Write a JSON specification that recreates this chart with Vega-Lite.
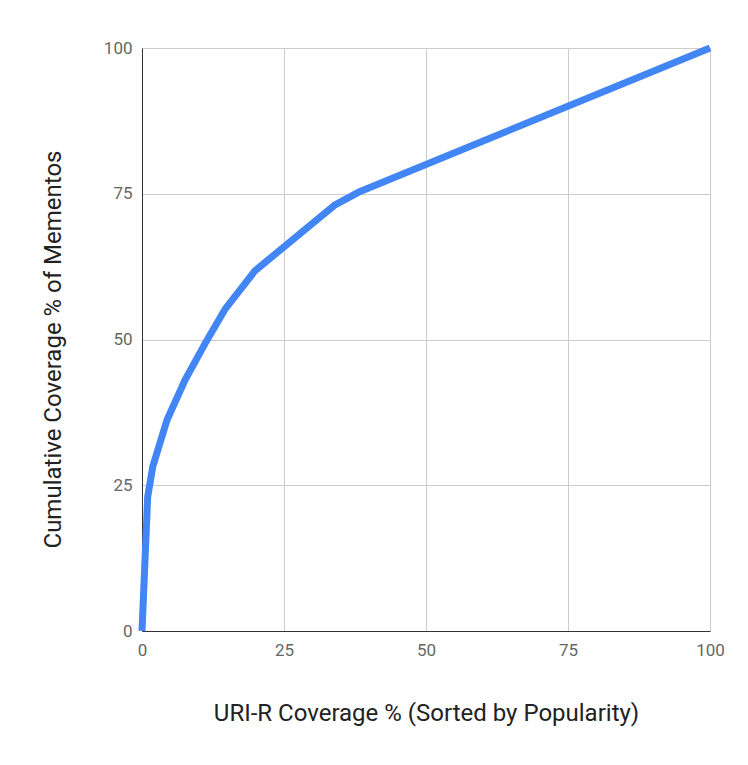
{
  "$schema": "https://vega.github.io/schema/vega-lite/v6.json",
  "width": 568,
  "height": 583,
  "autosize": {"type": "none"},
  "padding": {"left": 142, "top": 48, "right": 38, "bottom": 134},
  "background": "white",
  "config": {
    "view": {"stroke": null},
    "font": "Roboto",
    "axis": {
      "labelFont": "Roboto",
      "titleFont": "Roboto",
      "labelFontSize": 17,
      "labelColor": "#666666",
      "titleFontSize": 24,
      "titleFontWeight": "normal",
      "titleColor": "#222222",
      "gridColor": "#cccccc",
      "gridWidth": 1,
      "domainColor": "#333333",
      "ticks": false
    }
  },
  "data": {
    "values": [
      {"x": 0, "y": 0},
      {"x": 1.0, "y": 23.0},
      {"x": 1.9, "y": 28.2},
      {"x": 4.4, "y": 36.2},
      {"x": 7.6, "y": 43.1},
      {"x": 11.1, "y": 49.3},
      {"x": 14.7, "y": 55.3},
      {"x": 19.9, "y": 61.8},
      {"x": 34.0, "y": 73.1},
      {"x": 38.4, "y": 75.4},
      {"x": 100, "y": 100}
    ]
  },
  "mark": {"type": "line", "color": "#4285F4", "strokeWidth": 7, "strokeJoin": "round", "strokeCap": "butt"},
  "encoding": {
    "x": {
      "field": "x",
      "type": "quantitative",
      "scale": {"domain": [0, 100], "nice": false},
      "axis": {"values": [0, 25, 50, 75, 100], "title": "URI-R Coverage % (Sorted by Popularity)", "labelPadding": 11, "titlePadding": 43, "labelFlush": false}
    },
    "y": {
      "field": "y",
      "type": "quantitative",
      "scale": {"domain": [0, 100], "nice": false},
      "axis": {"values": [0, 25, 50, 75, 100], "title": "Cumulative Coverage % of Mementos", "labelPadding": 10, "titlePadding": 38, "titleY": 301, "labelFlush": false}
    }
  }
}
